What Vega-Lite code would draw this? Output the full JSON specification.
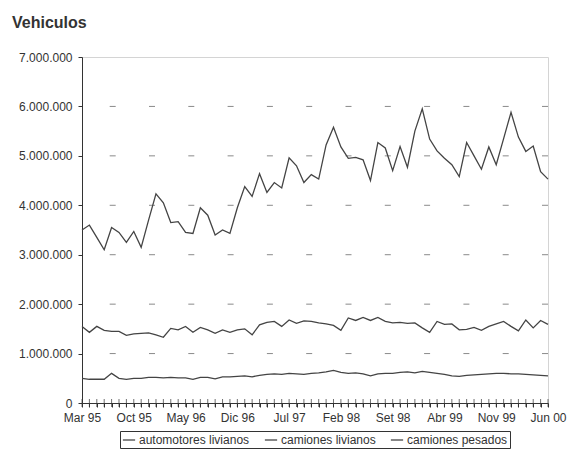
{
  "$schema": "https://vega.github.io/schema/vega-lite/v6.json",
  "autosize": {"type": "none"},
  "width": 466,
  "height": 346,
  "padding": {"left": 82, "top": 57, "right": 21, "bottom": 48},
  "background": "white",
  "title": {"text": "Vehiculos", "anchor": "start", "frame": "group", "dx": -70, "offset": 20, "fontSize": 16, "fontWeight": "bold", "color": "#333", "font": "Liberation Sans"},
  "data": {"values": [
    {"mes": "Mar 95", "automotores livianos": 3500000, "camiones livianos": 1550000, "camiones pesados": 500000},
    {"mes": "Abr 95", "automotores livianos": 3600000, "camiones livianos": 1430000, "camiones pesados": 480000},
    {"mes": "May 95", "automotores livianos": 3350000, "camiones livianos": 1550000, "camiones pesados": 480000},
    {"mes": "Jun 95", "automotores livianos": 3100000, "camiones livianos": 1470000, "camiones pesados": 480000},
    {"mes": "Jul 95", "automotores livianos": 3550000, "camiones livianos": 1450000, "camiones pesados": 600000},
    {"mes": "Ago 95", "automotores livianos": 3450000, "camiones livianos": 1450000, "camiones pesados": 500000},
    {"mes": "Set 95", "automotores livianos": 3250000, "camiones livianos": 1370000, "camiones pesados": 480000},
    {"mes": "Oct 95", "automotores livianos": 3470000, "camiones livianos": 1400000, "camiones pesados": 500000},
    {"mes": "Nov 95", "automotores livianos": 3150000, "camiones livianos": 1410000, "camiones pesados": 500000},
    {"mes": "Dic 95", "automotores livianos": 3700000, "camiones livianos": 1420000, "camiones pesados": 520000},
    {"mes": "Ene 96", "automotores livianos": 4230000, "camiones livianos": 1380000, "camiones pesados": 520000},
    {"mes": "Feb 96", "automotores livianos": 4050000, "camiones livianos": 1330000, "camiones pesados": 510000},
    {"mes": "Mar 96", "automotores livianos": 3650000, "camiones livianos": 1510000, "camiones pesados": 520000},
    {"mes": "Abr 96", "automotores livianos": 3670000, "camiones livianos": 1480000, "camiones pesados": 510000},
    {"mes": "May 96", "automotores livianos": 3450000, "camiones livianos": 1550000, "camiones pesados": 510000},
    {"mes": "Jun 96", "automotores livianos": 3430000, "camiones livianos": 1430000, "camiones pesados": 480000},
    {"mes": "Jul 96", "automotores livianos": 3950000, "camiones livianos": 1530000, "camiones pesados": 520000},
    {"mes": "Ago 96", "automotores livianos": 3800000, "camiones livianos": 1480000, "camiones pesados": 520000},
    {"mes": "Set 96", "automotores livianos": 3400000, "camiones livianos": 1410000, "camiones pesados": 490000},
    {"mes": "Oct 96", "automotores livianos": 3500000, "camiones livianos": 1480000, "camiones pesados": 530000},
    {"mes": "Nov 96", "automotores livianos": 3430000, "camiones livianos": 1430000, "camiones pesados": 530000},
    {"mes": "Dic 96", "automotores livianos": 3950000, "camiones livianos": 1480000, "camiones pesados": 540000},
    {"mes": "Ene 97", "automotores livianos": 4380000, "camiones livianos": 1500000, "camiones pesados": 550000},
    {"mes": "Feb 97", "automotores livianos": 4180000, "camiones livianos": 1380000, "camiones pesados": 530000},
    {"mes": "Mar 97", "automotores livianos": 4640000, "camiones livianos": 1580000, "camiones pesados": 560000},
    {"mes": "Abr 97", "automotores livianos": 4260000, "camiones livianos": 1630000, "camiones pesados": 580000},
    {"mes": "May 97", "automotores livianos": 4460000, "camiones livianos": 1650000, "camiones pesados": 590000},
    {"mes": "Jun 97", "automotores livianos": 4350000, "camiones livianos": 1550000, "camiones pesados": 580000},
    {"mes": "Jul 97", "automotores livianos": 4960000, "camiones livianos": 1680000, "camiones pesados": 600000},
    {"mes": "Ago 97", "automotores livianos": 4800000, "camiones livianos": 1610000, "camiones pesados": 590000},
    {"mes": "Set 97", "automotores livianos": 4460000, "camiones livianos": 1660000, "camiones pesados": 580000},
    {"mes": "Oct 97", "automotores livianos": 4620000, "camiones livianos": 1650000, "camiones pesados": 600000},
    {"mes": "Nov 97", "automotores livianos": 4530000, "camiones livianos": 1620000, "camiones pesados": 610000},
    {"mes": "Dic 97", "automotores livianos": 5220000, "camiones livianos": 1600000, "camiones pesados": 630000},
    {"mes": "Ene 98", "automotores livianos": 5580000, "camiones livianos": 1570000, "camiones pesados": 660000},
    {"mes": "Feb 98", "automotores livianos": 5180000, "camiones livianos": 1470000, "camiones pesados": 620000},
    {"mes": "Mar 98", "automotores livianos": 4950000, "camiones livianos": 1720000, "camiones pesados": 600000},
    {"mes": "Abr 98", "automotores livianos": 4970000, "camiones livianos": 1670000, "camiones pesados": 610000},
    {"mes": "May 98", "automotores livianos": 4920000, "camiones livianos": 1730000, "camiones pesados": 590000},
    {"mes": "Jun 98", "automotores livianos": 4500000, "camiones livianos": 1670000, "camiones pesados": 550000},
    {"mes": "Jul 98", "automotores livianos": 5270000, "camiones livianos": 1730000, "camiones pesados": 590000},
    {"mes": "Ago 98", "automotores livianos": 5160000, "camiones livianos": 1650000, "camiones pesados": 600000},
    {"mes": "Set 98", "automotores livianos": 4700000, "camiones livianos": 1620000, "camiones pesados": 600000},
    {"mes": "Oct 98", "automotores livianos": 5190000, "camiones livianos": 1630000, "camiones pesados": 620000},
    {"mes": "Nov 98", "automotores livianos": 4770000, "camiones livianos": 1610000, "camiones pesados": 630000},
    {"mes": "Dic 98", "automotores livianos": 5500000, "camiones livianos": 1620000, "camiones pesados": 610000},
    {"mes": "Ene 99", "automotores livianos": 5950000, "camiones livianos": 1520000, "camiones pesados": 640000},
    {"mes": "Feb 99", "automotores livianos": 5340000, "camiones livianos": 1430000, "camiones pesados": 620000},
    {"mes": "Mar 99", "automotores livianos": 5100000, "camiones livianos": 1650000, "camiones pesados": 600000},
    {"mes": "Abr 99", "automotores livianos": 4950000, "camiones livianos": 1590000, "camiones pesados": 580000},
    {"mes": "May 99", "automotores livianos": 4820000, "camiones livianos": 1600000, "camiones pesados": 550000},
    {"mes": "Jun 99", "automotores livianos": 4580000, "camiones livianos": 1480000, "camiones pesados": 540000},
    {"mes": "Jul 99", "automotores livianos": 5270000, "camiones livianos": 1490000, "camiones pesados": 560000},
    {"mes": "Ago 99", "automotores livianos": 5000000, "camiones livianos": 1530000, "camiones pesados": 570000},
    {"mes": "Set 99", "automotores livianos": 4730000, "camiones livianos": 1470000, "camiones pesados": 580000},
    {"mes": "Oct 99", "automotores livianos": 5180000, "camiones livianos": 1550000, "camiones pesados": 590000},
    {"mes": "Nov 99", "automotores livianos": 4820000, "camiones livianos": 1600000, "camiones pesados": 600000},
    {"mes": "Dic 99", "automotores livianos": 5350000, "camiones livianos": 1650000, "camiones pesados": 600000},
    {"mes": "Ene 00", "automotores livianos": 5880000, "camiones livianos": 1550000, "camiones pesados": 590000},
    {"mes": "Feb 00", "automotores livianos": 5380000, "camiones livianos": 1460000, "camiones pesados": 590000},
    {"mes": "Mar 00", "automotores livianos": 5090000, "camiones livianos": 1680000, "camiones pesados": 580000},
    {"mes": "Abr 00", "automotores livianos": 5200000, "camiones livianos": 1520000, "camiones pesados": 570000},
    {"mes": "May 00", "automotores livianos": 4680000, "camiones livianos": 1670000, "camiones pesados": 560000},
    {"mes": "Jun 00", "automotores livianos": 4530000, "camiones livianos": 1590000, "camiones pesados": 550000}
  ]},
  "layer": [
    {
      "data": {"values": [{"v": 1000000}, {"v": 2000000}, {"v": 3000000}, {"v": 4000000}, {"v": 5000000}, {"v": 6000000}]},
      "mark": {"type": "rule", "color": "#8a8a8a", "strokeWidth": 1, "strokeDash": [6, 33.3]},
      "encoding": {"y": {"field": "v", "type": "quantitative", "scale": {"domain": [0, 7000000], "nice": false}}}
    },
    {
      "transform": [{"fold": ["automotores livianos", "camiones livianos", "camiones pesados"], "as": ["serie", "valor"]}],
      "mark": {"type": "line", "strokeWidth": 1.3},
      "encoding": {
        "x": {"field": "mes", "type": "ordinal", "sort": null, "scale": {"type": "point", "padding": 0},
          "axis": {"title": null, "labelAngle": 0, "labelOverlap": false, "domain": true, "domainColor": "#333", "ticks": true, "tickSize": 4, "tickColor": "#333", "labelPadding": 5, "labelFontSize": 12, "labelFont": "Liberation Sans", "labelColor": "#333", "grid": false,
            "labelExpr": "indexof(['Mar 95','Oct 95','May 96','Dic 96','Jul 97','Feb 98','Set 98','Abr 99','Nov 99','Jun 00'], datum.value) >= 0 ? datum.value : ''"}},
        "y": {"field": "valor", "type": "quantitative", "scale": {"domain": [0, 7000000], "nice": false},
          "axis": {"title": null, "values": [0, 1000000, 2000000, 3000000, 4000000, 5000000, 6000000, 7000000], "grid": false, "domainColor": "#333", "tickColor": "#333", "tickSize": 4, "labelPadding": 6, "labelFontSize": 12, "labelFont": "Liberation Sans", "labelColor": "#333",
            "labelExpr": "replace(format(datum.value, ','), regexp(',', 'g'), '.')"}},
        "color": {"field": "serie", "type": "nominal", "scale": {"range": ["#444", "#444", "#444"]},
          "legend": {"title": null, "orient": "bottom", "direction": "horizontal", "symbolType": "stroke", "symbolSize": 150, "symbolStrokeWidth": 1.3, "labelFontSize": 12, "labelFont": "Liberation Sans", "labelColor": "#333", "strokeColor": "#333", "padding": 2, "offset": 8, "columnPadding": 12, "labelOffset": 3}}
      }
    },
    {
      "mark": {"type": "tick", "orient": "vertical", "color": "#333", "thickness": 1, "size": 8},
      "encoding": {
        "x": {"field": "mes", "type": "ordinal", "sort": null},
        "y": {"datum": 0, "type": "quantitative"}
      }
    }
  ],
  "config": {
    "view": {"stroke": "#d4d4d4"},
    "legend": {"layout": {"bottom": {"anchor": "middle"}}}
  }
}
